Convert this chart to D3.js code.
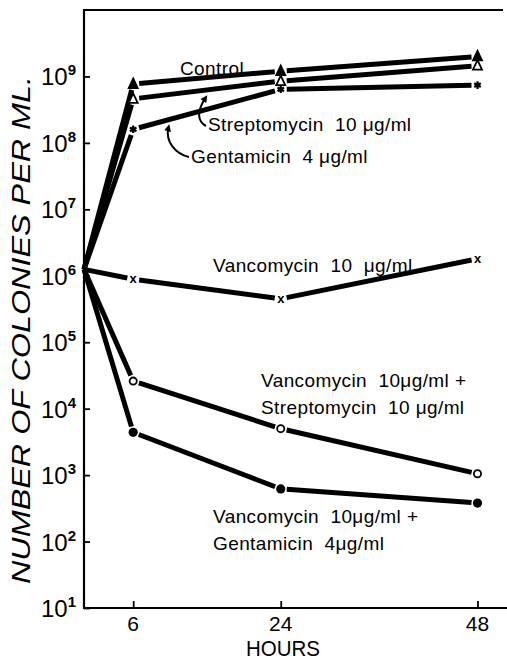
<!DOCTYPE html>
<html>
<head>
<meta charset="utf-8">
<script src="https://cdn.jsdelivr.net/npm/d3@7"></script>
<style>
  body { margin: 0; background: #fff; }
  text { font-family: "Liberation Sans", Arial, sans-serif; fill: #000; }
</style>
</head>
<body>
<div id="chart"></div>
<script>
// data (colonies per ml)
var hours = [0, 6, 24, 48];
var control = [1.25e6, 7.7e8, 1.2e9, 2.0e9];
var strep = [1.25e6, 4.6e8, 8.5e8, 1.45e9];
var gent = [1.25e6, 1.6e8, 6.4e8, 7.4e8];
var vanc = [1.25e6, 8.9e5, 4.5e5, 1.8e6];
var vancStrep = [1.25e6, 2.6e4, 5.0e3, 1.05e3];
var vancGent = [1.25e6, 4.4e3, 620, 380];
var yExponents = [1, 2, 3, 4, 5, 6, 7, 8, 9];
var xTicks = [6, 24, 48];

var width = 507,
    height = 661;

var svg = d3.select("#chart")
    .append("svg")
    .attr("width", width)
    .attr("height", height);

var x = d3.scaleLinear().domain([0, 51.6]).range([84, 507]);
var y = d3.scaleLog().domain([10, 1e10]).range([608, 10]);

// frame: left, top and bottom lines
svg.append("path")
    .attr("d", "M503," + y(1e10) + "H" + x(0) + "V" + y(10) + "H" + x(51.6))
    .attr("fill", "none")
    .attr("stroke", "#000")
    .attr("stroke-width", 2.2);

// ticks, pointing inward
svg.append("g")
    .attr("transform", "translate(" + x(0) + ",0)")
    .call(d3.axisLeft(y).tickValues(yExponents.map(function(e) { return Math.pow(10, e); }))
        .tickSize(-6).tickFormat(""))
    .call(function(g) { g.select(".domain").remove(); })
    .selectAll("line").attr("stroke-width", 1.8);

svg.append("g")
    .attr("transform", "translate(0," + y(10) + ")")
    .call(d3.axisBottom(x).tickValues(xTicks).tickSize(-7).tickFormat(""))
    .call(function(g) { g.select(".domain").remove(); })
    .selectAll("line").attr("stroke-width", 1.8);

// y tick labels as 10 with superscript
var yLab = svg.selectAll(".ylab")
    .data(yExponents)
    .enter().append("text")
    .attr("class", "ylab")
    .attr("x", 76)
    .attr("y", function(d) { return y(Math.pow(10, d)) + 9; })
    .style("text-anchor", "end")
    .style("font-size", "24px");
yLab.append("tspan").text("10");
yLab.append("tspan")
    .attr("dy", -10)
    .style("font-size", "15px")
    .style("font-weight", "bold")
    .text(function(d) { return d; });

svg.selectAll(".xlab")
    .data(xTicks)
    .enter().append("text")
    .attr("class", "xlab")
    .attr("x", function(d) { return x(d); })
    .attr("y", 631)
    .style("text-anchor", "middle")
    .style("font-size", "21px")
    .text(function(d) { return d; });

svg.append("text")
    .attr("x", 283)
    .attr("y", 656)
    .attr("textLength", 74)
    .attr("lengthAdjust", "spacingAndGlyphs")
    .style("text-anchor", "middle")
    .style("font-size", "22px")
    .text("HOURS");

svg.append("text")
    .attr("transform", "translate(30,330) rotate(-90)")
    .attr("textLength", 508)
    .attr("lengthAdjust", "spacingAndGlyphs")
    .style("text-anchor", "middle")
    .style("font-size", "25px")
    .style("font-style", "italic")
    .text("NUMBER OF COLONIES PER ML.");

var series = [
    {name: "control", values: control, mark: "triFill"},
    {name: "strep", values: strep, mark: "triOpen"},
    {name: "gent", values: gent, mark: "star"},
    {name: "vanc", values: vanc, mark: "x"},
    {name: "vancStrep", values: vancStrep, mark: "circOpen"},
    {name: "vancGent", values: vancGent, mark: "circFill"}
];

var gap = 6;
series.forEach(function(s) {
    var pts = hours.map(function(h, i) { return [x(h), y(s.values[i])]; });
    var segs = [];
    for (var i = 0; i < pts.length - 1; i++) {
        var a = pts[i], b = pts[i + 1];
        var dx = b[0] - a[0], dy = b[1] - a[1];
        var len = Math.sqrt(dx * dx + dy * dy);
        var g0 = i > 0 ? gap : 0;
        segs.push([
            [a[0] + dx * g0 / len, a[1] + dy * g0 / len],
            [b[0] - dx * gap / len, b[1] - dy * gap / len]
        ]);
    }
    svg.append("g").selectAll("line")
        .data(segs)
        .enter().append("line")
        .attr("x1", function(d) { return d[0][0]; })
        .attr("y1", function(d) { return d[0][1]; })
        .attr("x2", function(d) { return d[1][0]; })
        .attr("y2", function(d) { return d[1][1]; })
        .attr("stroke", "#000")
        .attr("stroke-width", 5);

    var m = svg.append("g").selectAll("g")
        .data(pts.slice(1))
        .enter().append("g")
        .attr("transform", function(d) { return "translate(" + d[0] + "," + d[1] + ")"; });

    if (s.mark == "triFill" || s.mark == "triOpen") {
        m.append("path")
            .attr("d", "M0,-5.5L4.5,4L-4.5,4Z")
            .attr("fill", s.mark == "triFill" ? "#000" : "#fff")
            .attr("stroke", "#000")
            .attr("stroke-width", 1.8);
    } else if (s.mark == "star") {
        m.append("path")
            .attr("d", d3.symbol(d3.symbolAsterisk, 40))
            .attr("fill", "none")
            .attr("stroke", "#000")
            .attr("stroke-width", 2.2);
    } else if (s.mark == "x") {
        m.append("text")
            .attr("y", 4)
            .style("text-anchor", "middle")
            .style("font-size", "13px")
            .style("font-weight", "bold")
            .text("x");
    } else if (s.mark == "circOpen") {
        m.append("circle").attr("r", 3.6)
            .attr("fill", "#fff").attr("stroke", "#000").attr("stroke-width", 1.8);
    } else {
        m.append("circle").attr("r", 4.6).attr("fill", "#000");
    }
});

// series labels
var labels = [
    {lines: ["Control"], x: 180, y: 75},
    {lines: ["Streptomycin  10 \u03bcg/ml"], x: 208, y: 131},
    {lines: ["Gentamicin  4 \u03bcg/ml"], x: 191, y: 163},
    {lines: ["Vancomycin  10  \u03bcg/ml"], x: 213, y: 272},
    {lines: ["Vancomycin  10\u03bcg/ml +", "Streptomycin  10 \u03bcg/ml"], x: 261, y: 387},
    {lines: ["Vancomycin  10\u03bcg/ml +", "Gentamicin  4\u03bcg/ml"], x: 213, y: 523}
];
labels.forEach(function(l) {
    var t = svg.append("text")
        .attr("x", l.x)
        .attr("y", l.y)
        .style("font-size", "19px")
        .style("letter-spacing", "0.4px")
        .style("white-space", "pre");
    l.lines.forEach(function(line, i) {
        t.append("tspan").attr("x", l.x).attr("dy", i ? 27 : 0).text(line);
    });
});

// curved leaders with arrowheads pointing at the lines
svg.append("defs").append("marker")
    .attr("id", "arrow")
    .attr("viewBox", "0 0 10 10")
    .attr("refX", 5).attr("refY", 5)
    .attr("markerWidth", 3.5).attr("markerHeight", 3.5)
    .attr("orient", "auto")
    .append("path").attr("d", "M0,0L10,5L0,10Z").attr("fill", "#000");

function lineY(vals, h) {
    // log-linear interpolation between the 6 h and 24 h points
    var t = (h - 6) / 18;
    return y(Math.pow(10, Math.log10(vals[1]) + t * (Math.log10(vals[2]) - Math.log10(vals[1]))));
}
var sTip = [x(14.8), lineY(strep, 14.8) + 6];
var gTip = [x(10.3), lineY(gent, 10.3) + 6];
svg.append("path")
    .attr("d", "M206,126C198,122 196,112 " + sTip[0] + "," + (sTip[1] + 2))
    .attr("fill", "none").attr("stroke", "#000").attr("stroke-width", 2)
    .attr("marker-end", "url(#arrow)");
svg.append("path")
    .attr("d", "M189,157C176,154 165,142 " + gTip[0] + "," + (gTip[1] + 2))
    .attr("fill", "none").attr("stroke", "#000").attr("stroke-width", 2)
    .attr("marker-end", "url(#arrow)");
</script>
</body>
</html>
